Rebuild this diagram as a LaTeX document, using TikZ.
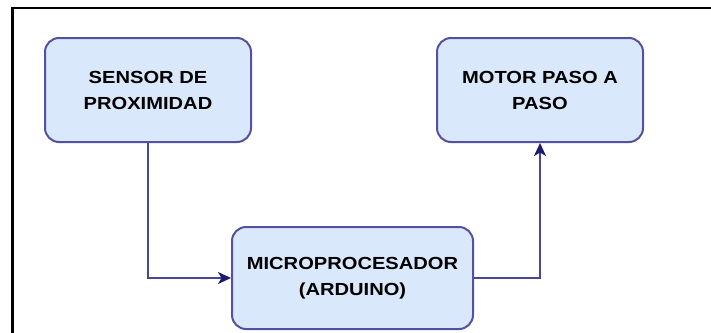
\documentclass[tikz,border=0pt]{standalone}
\usepackage{fontspec}
\setmainfont{Liberation Sans}[FakeStretch=1.15]
\usetikzlibrary{arrows.meta}

\definecolor{boxfill}{HTML}{DAE8FC}
\definecolor{boxline}{RGB}{84,82,158}
\definecolor{wireline}{RGB}{72,70,152}
\definecolor{tipfill}{RGB}{28,28,112}

\tikzset{
  block/.style={draw=boxline, fill=boxfill, line width=2pt, rounded corners=14pt,
    align=center, inner sep=0pt,
    font=\fontsize{17.5}{26}\selectfont\bfseries},
  wire/.style={draw=wireline, line width=2pt,
    -{Stealth[length=13pt,width=12pt,inset=3.5pt,fill=tipfill,color=tipfill]}},
  frameline/.style={draw=black, line width=2.6pt}
}

\begin{document}
\begin{tikzpicture}[x=1pt,y=-1pt]
  \useasboundingbox (0,0) rectangle (711,332);

  % outer frame (left and top edges)
  \draw[frameline] (12.5,333) -- (12.5,8) -- (712,8);

  % blocks
  \node[block, minimum width=206pt, minimum height=104pt] (sensor) at (148,90)
    {SENSOR DE\\PROXIMIDAD};
  \node[block, minimum width=206pt, minimum height=104pt] (motor) at (540,90)
    {MOTOR PASO A\\PASO};
  \node[block, minimum width=241pt, minimum height=102pt] (micro) at (352.5,278)
    {MICROPROCESADOR\\(ARDUINO)};

  % signal flow
  \draw[wire] (sensor.south) |- (micro.west);
  \draw[wire] (micro.east) -| (motor.south);
\end{tikzpicture}
\end{document}
